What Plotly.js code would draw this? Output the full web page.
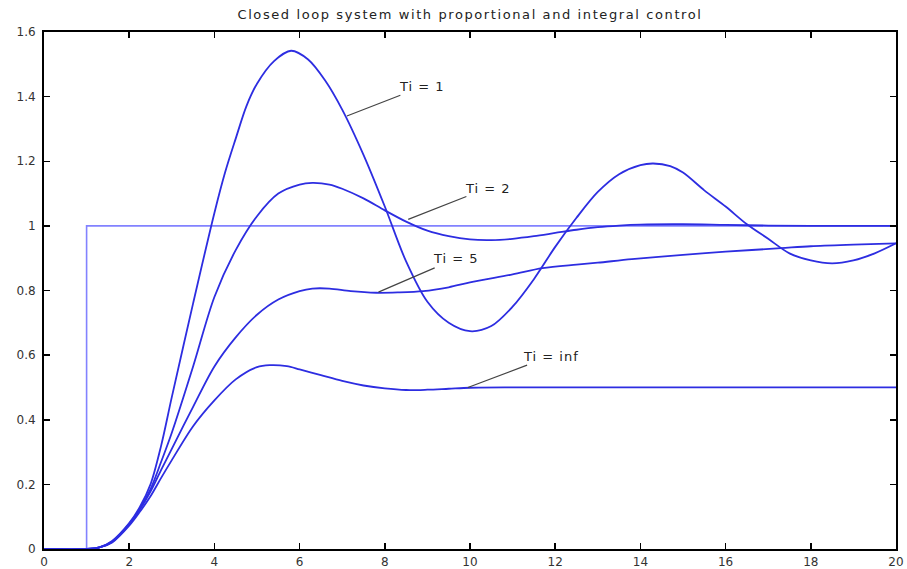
<!DOCTYPE html>
<html>
<head>
<meta charset="utf-8">
<script src="https://cdn.plot.ly/plotly-3.0.1.min.js"></script>
<style>
html,body{margin:0;padding:0;background:#fff;}
#chart{width:907px;height:569px;}
#chart .gtitle{letter-spacing:1.6px;}
#chart .annotation-text{letter-spacing:1px;}
</style>
</head>
<body>
<div id="chart"></div>
<script>
// Reference step (setpoint)
const stepT = [0, 1, 1, 20];
const stepY = [0, 0, 1, 1];

// Ti = 1
const t1 = [0, 1, 1.3, 1.6, 2.0, 2.25, 2.5, 2.75, 3.0, 3.5, 4.0, 4.25, 4.5, 4.75, 5.0, 5.4, 5.8, 6.2, 6.6, 7.0, 7.5, 8.0, 8.5, 9.0, 9.5, 10.0, 10.5, 11.0, 11.5, 12.0, 12.5, 13.0, 13.5, 14.0, 14.3, 14.7, 15.0, 15.5, 16.0, 16.5, 17.0, 17.5, 18.0, 18.5, 19.0, 19.5, 20.0];
const y1 = [0, 0, 0.005, 0.025, 0.08, 0.13, 0.20, 0.32, 0.47, 0.76, 1.04, 1.165, 1.27, 1.37, 1.44, 1.51, 1.542, 1.515, 1.45, 1.36, 1.22, 1.06, 0.89, 0.765, 0.70, 0.674, 0.69, 0.75, 0.835, 0.935, 1.025, 1.105, 1.16, 1.188, 1.193, 1.185, 1.165, 1.11, 1.06, 1.005, 0.96, 0.915, 0.893, 0.884, 0.893, 0.915, 0.946];

// Ti = 2
const t2 = [0, 1, 1.3, 1.6, 2.0, 2.25, 2.5, 2.75, 3.0, 3.5, 4.0, 4.5, 5.0, 5.5, 6.0, 6.3, 6.7, 7.0, 7.5, 8.0, 8.5, 9.0, 9.5, 10.0, 10.5, 11.0, 11.5, 12.0, 12.5, 13.0, 13.5, 14.0, 15.0, 16.0, 17.0, 18.0, 20.0];
const y2 = [0, 0, 0.005, 0.023, 0.078, 0.125, 0.185, 0.27, 0.36, 0.565, 0.78, 0.925, 1.03, 1.10, 1.128, 1.133, 1.128, 1.115, 1.085, 1.048, 1.013, 0.985, 0.968, 0.958, 0.956, 0.96, 0.968, 0.978, 0.988, 0.996, 1.001, 1.004, 1.005, 1.003, 1.001, 1.0, 1.0];

// Ti = 5
const t5 = [0, 1, 1.3, 1.6, 2.0, 2.25, 2.5, 2.75, 3.0, 3.5, 4.0, 4.5, 5.0, 5.5, 6.0, 6.3, 6.7, 7.2, 7.8, 8.3, 8.9, 9.5, 10.0, 11.0, 11.7, 12.5, 13.0, 13.8, 15.0, 16.0, 17.3, 18.0, 19.0, 20.0];
const y5 = [0, 0, 0.005, 0.022, 0.076, 0.122, 0.178, 0.245, 0.31, 0.44, 0.565, 0.655, 0.725, 0.772, 0.798, 0.806, 0.806, 0.798, 0.793, 0.794, 0.798, 0.81, 0.825, 0.85, 0.869, 0.88, 0.886, 0.897, 0.91, 0.92, 0.931, 0.937, 0.942, 0.946];

// Ti = inf
const tInf = [0, 1, 1.3, 1.6, 2.0, 2.25, 2.5, 2.75, 3.0, 3.5, 4.0, 4.5, 5.0, 5.3, 5.7, 6.0, 6.5, 7.0, 7.5, 8.0, 8.5, 9.0, 9.5, 10.0, 11.0, 12.0, 14.0, 16.0, 18.0, 20.0];
const yInf = [0, 0, 0.005, 0.02, 0.072, 0.115, 0.163, 0.22, 0.275, 0.38, 0.46, 0.525, 0.563, 0.569, 0.566, 0.556, 0.538, 0.52, 0.506, 0.497, 0.492, 0.493, 0.496, 0.499, 0.5, 0.5, 0.5, 0.5, 0.5, 0.5];

// Curve labels: text, anchor point on curve, text position
const labelText = ["Ti = 1", "Ti = 2", "Ti = 5", "Ti = inf"];
const labelPtX = [7.11, 8.55, 7.85, 9.95];
const labelPtY = [1.34, 1.02, 0.795, 0.5];
const labelTxX = [8.87, 10.42, 9.66, 11.9];
const labelTxY = [1.43, 1.117, 0.898, 0.597];

const xTicks = [0, 2, 4, 6, 8, 10, 12, 14, 16, 18, 20];
const yTicks = [0, 0.2, 0.4, 0.6, 0.8, 1, 1.2, 1.4, 1.6];

const FONT = 'DejaVu Sans, Verdana, sans-serif';
const curveColor = 'rgb(45,45,225)';
const curveLine = {color: curveColor, width: 1.8, shape: 'spline', smoothing: 0.9};

const traces = [
  {x: stepT, y: stepY, type: 'scatter', mode: 'lines', line: {color: 'rgb(130,130,255)', width: 1.6}, hoverinfo: 'skip'},
  {x: tInf, y: yInf, type: 'scatter', mode: 'lines', line: curveLine, name: 'Ti = inf'},
  {x: t5, y: y5, type: 'scatter', mode: 'lines', line: curveLine, name: 'Ti = 5'},
  {x: t2, y: y2, type: 'scatter', mode: 'lines', line: curveLine, name: 'Ti = 2'},
  {x: t1, y: y1, type: 'scatter', mode: 'lines', line: curveLine, name: 'Ti = 1'}
];

const annotations = labelText.map((txt, i) => ({
  x: labelPtX[i], y: labelPtY[i], xref: 'x', yref: 'y',
  ax: labelTxX[i], ay: labelTxY[i], axref: 'x', ayref: 'y',
  text: txt, showarrow: true, arrowhead: 0, arrowwidth: 1.2, arrowcolor: '#444',
  standoff: 0, startstandoff: 0,
  font: {family: FONT, size: 13, color: '#222'}
}));

const axisCommon = {
  showline: true, linecolor: '#000', linewidth: 2, mirror: 'allticks',
  ticks: 'inside', ticklen: 6, tickwidth: 1.5, tickcolor: '#000',
  showgrid: false, zeroline: false,
  tickfont: {family: FONT, size: 12, color: '#333'}
};

const layout = {
  width: 907, height: 569,
  margin: {l: 44, r: 11, t: 32, b: 20},
  paper_bgcolor: '#fff', plot_bgcolor: '#fff',
  showlegend: false,
  title: {text: 'Closed loop system with proportional and integral control',
          font: {family: FONT, size: 13, color: '#222'},
          x: 0.5, xref: 'paper', y: 0.975, yref: 'container', xanchor: 'center', yanchor: 'middle'},
  xaxis: Object.assign({}, axisCommon, {range: [0, 20], tickvals: xTicks, ticktext: xTicks.map(String), ticklabelstandoff: 1}),
  yaxis: Object.assign({}, axisCommon, {range: [0, 1.6], tickvals: yTicks, ticktext: yTicks.map(String), ticklabelstandoff: 4}),
  annotations: annotations
};

Plotly.newPlot('chart', traces, layout, {displayModeBar: false, staticPlot: true});
</script>
</body>
</html>
